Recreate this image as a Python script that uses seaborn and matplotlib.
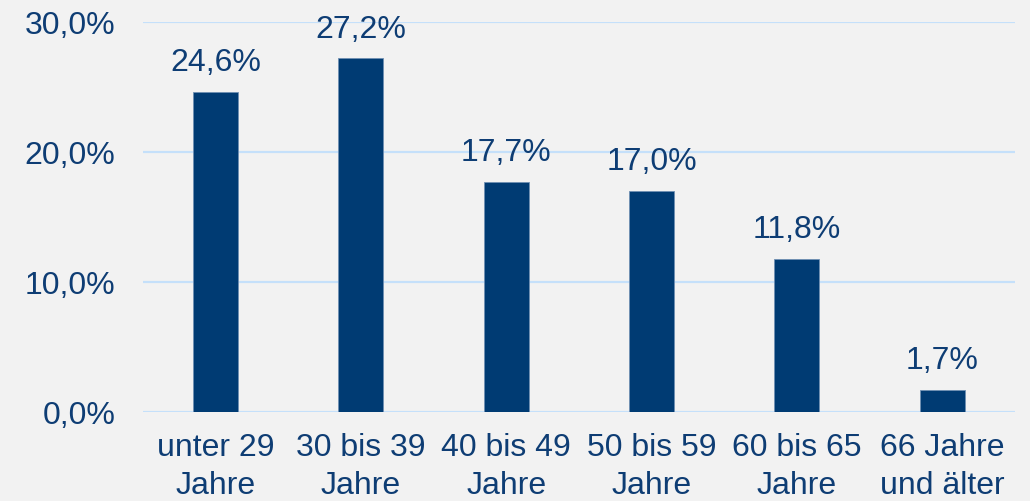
import pandas as pd
import seaborn as sns
import matplotlib.pyplot as plt
from matplotlib.ticker import FuncFormatter

# Data
categories = ['unter 29\nJahre', '30 bis 39\nJahre', '40 bis 49\nJahre',
              '50 bis 59\nJahre', '60 bis 65\nJahre', '66 Jahre\nund älter']
shares = [24.6, 27.2, 17.7, 17.0, 11.8, 1.7]
y_ticks = [0, 10, 20, 30]

df = pd.DataFrame({'group': categories, 'share': shares})

bg = '#F2F2F2'
bar_color = '#003B73'
text_color = '#0E3D74'
grid_color = '#C5E0FA'

sns.set_theme(style='white')
plt.rcParams['font.family'] = ['Liberation Sans', 'DejaVu Sans']

fig = plt.figure(figsize=(10.3, 5.01), dpi=100, facecolor=bg)
ax = fig.add_axes([0.1388, 0.1776, 0.8466, 0.7784], facecolor=bg)

sns.barplot(data=df, x='group', y='share', color=bar_color, width=0.31,
            saturation=1, edgecolor='#6F8FB3', linewidth=0.6, ax=ax, zorder=3)

ax.set_ylim(0, 30)
ax.set_yticks(y_ticks)
ax.yaxis.set_major_formatter(FuncFormatter(lambda v, p: f'{v:.1f}%'.replace('.', ',')))
ax.grid(axis='y', color=grid_color, linewidth=1.6, zorder=0)
ax.set_axisbelow(True)
for s in ax.spines.values():
    s.set_visible(False)

ax.set_xlabel('')
ax.set_ylabel('')
ax.tick_params(axis='y', length=0, pad=20, labelsize=23, labelcolor=text_color)
ax.tick_params(axis='x', length=0, pad=15, labelsize=23, labelcolor=text_color)
for lbl in ax.get_xticklabels():
    lbl.set_linespacing(1.35)

# value labels
for c in ax.containers:
    ax.bar_label(c, labels=[f'{v:.1f}%'.replace('.', ',') for v in shares],
                 padding=10, fontsize=23, color=text_color)

fig.savefig('out.png', dpi=100, facecolor=bg)
